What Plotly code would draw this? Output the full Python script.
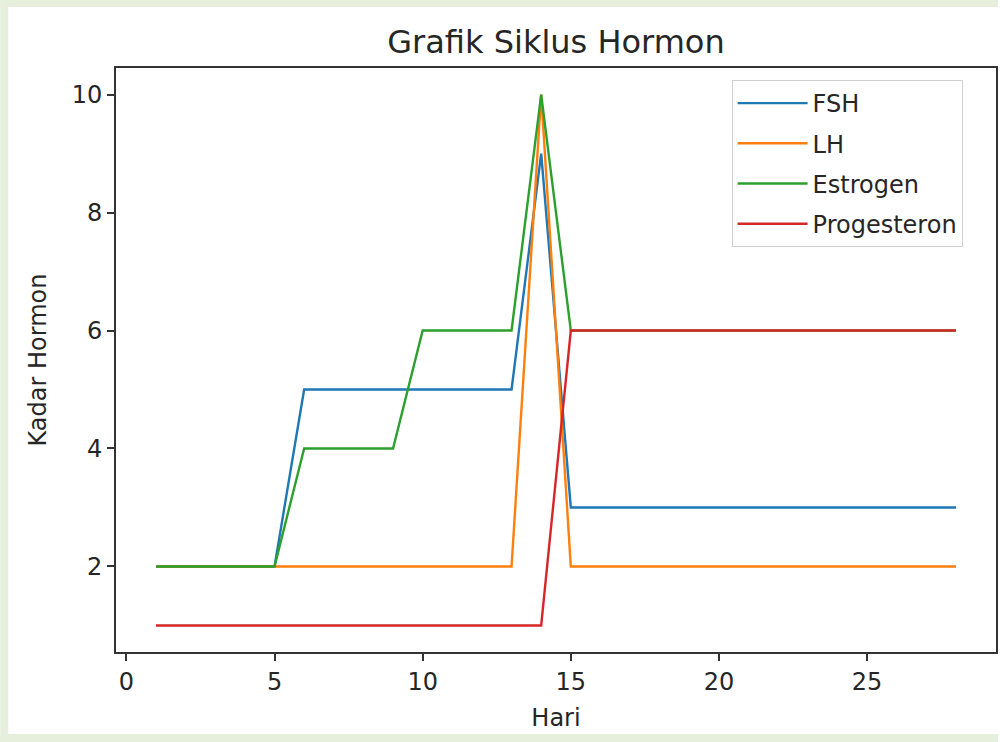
import plotly.graph_objects as go

hari = list(range(1, 29))
fsh = [2, 2, 2, 2, 2, 5, 5, 5, 5, 5, 5, 5, 5, 9] + [3] * 14
lh = [2] * 13 + [10] + [2] * 14
estrogen = [2, 2, 2, 2, 2, 4, 4, 4, 4, 6, 6, 6, 6, 10] + [6] * 14
progesteron = [1] * 14 + [6] * 14

series = [
    ("FSH", fsh, "#1f77b4"),
    ("LH", lh, "#ff7f0e"),
    ("Estrogen", estrogen, "#2ca02c"),
    ("Progesteron", progesteron, "#d62728"),
]

W, H = 1000, 742
L, R, T, B = 116, 2, 68, 90
pw, ph = W - L - R, H - T - B

def px(x):
    return (x - L) / pw

def py(y):
    return (H - B - y) / ph

fig = go.Figure()
for name, vals, color in series:
    fig.add_trace(go.Scatter(x=hari, y=vals, mode="lines", name=name,
                             legendgroup=name,
                             line=dict(color=color, width=2.4)))

font = "DejaVu Sans, Verdana, sans-serif"
txt = "#262626"
green = "#e6efdc"

fig.update_layout(
    width=W, height=H,
    margin=dict(l=L, r=R, t=T, b=B),
    paper_bgcolor="white", plot_bgcolor="white",
    font=dict(family=font, size=24, color=txt),
    title=dict(text="Grafik Siklus Hormon", x=0.5, xref="paper", xanchor="center",
               y=1 - 42 / H, yanchor="middle", yref="container",
               font=dict(size=32, color=txt)),
    showlegend=True,
    legend=dict(x=px(733), y=py(80), xanchor="left", yanchor="top",
                bgcolor="white", bordercolor="#d0d0d0", borderwidth=1,
                font=dict(size=24, color=txt), tracegroupgap=6,
                itemwidth=70),
    shapes=[
        dict(type="rect", xref="paper", yref="paper", x0=px(0), x1=px(8),
             y0=py(H), y1=py(0), fillcolor=green, line=dict(width=0), layer="below"),
        dict(type="rect", xref="paper", yref="paper", x0=px(0), x1=px(W),
             y0=py(7), y1=py(0), fillcolor=green, line=dict(width=0), layer="below"),
        dict(type="rect", xref="paper", yref="paper", x0=px(0), x1=px(W),
             y0=py(H), y1=py(734), fillcolor=green, line=dict(width=0), layer="below"),
    ],
)

fig.update_xaxes(range=[-0.35, 29.35], tickvals=[0, 5, 10, 15, 20, 25],
                 showgrid=False, zeroline=False, showline=True, mirror=True,
                 linecolor="#333", linewidth=1.8, ticks="outside", ticklen=7,
                 tickwidth=1.5, tickcolor="#333",
                 title=dict(text="Hari", standoff=14, font=dict(size=24)))
fig.update_yaxes(range=[0.55, 10.45], tickvals=[2, 4, 6, 8, 10],
                 showgrid=False, zeroline=False, showline=True, mirror=True,
                 linecolor="#333", linewidth=1.8, ticks="outside", ticklen=7,
                 tickwidth=1.5, tickcolor="#333",
                 title=dict(text="Kadar Hormon", standoff=18, font=dict(size=24)))

fig.write_html("out.html",
               config={"displayModeBar": False},
               post_script="document.body.style.margin='0';document.body.style.padding='0';document.body.style.background='white';")
